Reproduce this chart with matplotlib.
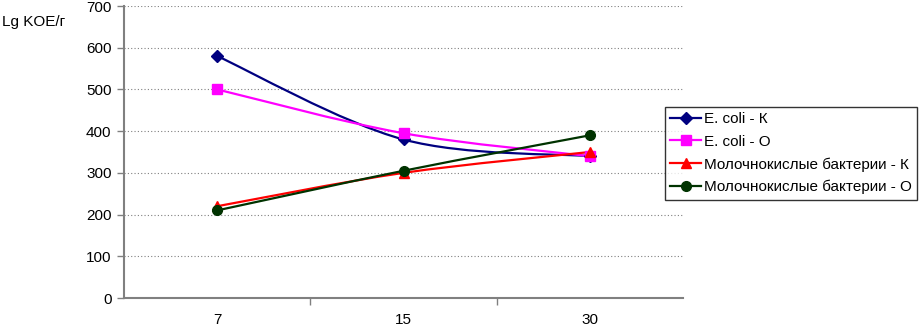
import numpy as np
import matplotlib.pyplot as plt
from matplotlib.path import Path
from matplotlib.patches import PathPatch

plt.rcParams['font.family'] = ['Liberation Sans', 'DejaVu Sans']

# Данные
days = ['7', '15', '30']
ecoli_k = [580, 380, 340]
ecoli_o = [500, 395, 340]
lact_k = [220, 300, 350]
lact_o = [210, 305, 390]

series = [
    ('E. coli - К', ecoli_k, '#000080', 'D', 6),
    ('E. coli - О', ecoli_o, '#FF00FF', 's', 7),
    ('Молочнокислые бактерии - К', lact_k, '#FF0000', '^', 7),
    ('Молочнокислые бактерии - О', lact_o, '#003300', 'o', 7),
]


def smooth_path(xs, ys):
    # сглаженная линия как в Excel (кривые Безье)
    pts = np.column_stack([xs, ys]).astype(float)
    n = len(pts)
    verts = [pts[0]]
    codes = [Path.MOVETO]
    for i in range(n - 1):
        p0 = pts[i - 1] if i > 0 else pts[i]
        p1 = pts[i]
        p2 = pts[i + 1]
        p3 = pts[i + 2] if i + 2 < n else pts[i + 1]
        c1 = p1 + (p2 - p0) / 6.0
        c2 = p2 - (p3 - p1) / 6.0
        verts += [c1, c2, p2]
        codes += [Path.CURVE4] * 3
    return Path(verts, codes)


fig = plt.figure(figsize=(9.22, 3.27), dpi=100)
ax = fig.add_axes([124 / 922, 29 / 327, (683 - 124) / 922, (298 - 6) / 327])

x = np.arange(len(days))
handles = []
for label, vals, color, marker, ms in series:
    patch = PathPatch(smooth_path(x, vals), facecolor='none', edgecolor=color, lw=1.6, zorder=3)
    ax.add_patch(patch)
    ax.plot(x, vals, linestyle='none', marker=marker, color=color, markersize=ms, zorder=4)
    h, = ax.plot([], [], color=color, marker=marker, markersize=ms, lw=1.6, label=label)
    handles.append(h)

ax.set_xlim(-0.5, 2.5)
ax.set_ylim(0, 700)
ax.set_yticks(range(0, 701, 100))
ax.set_xticks(x)
ax.set_xticklabels(days)
ax.set_xticks([0.5, 1.5], minor=True)
ax.tick_params(axis='x', which='major', length=0, pad=11, labelsize=11)
ax.tick_params(axis='x', which='minor', length=5, direction='out', color='#808080', width=1)
ax.tick_params(axis='y', length=5, direction='out', color='#808080', width=1, labelsize=11, pad=4)

ax.yaxis.grid(True, linestyle=(0, (1, 2)), color='#808080', linewidth=0.8)
ax.set_axisbelow(True)
for s in ['top', 'right']:
    ax.spines[s].set_visible(False)
for s in ['left', 'bottom']:
    ax.spines[s].set_color('#808080')
    ax.spines[s].set_linewidth(1.5)

fig.text(2 / 922, 1 - 22 / 327, 'Lg KOE/г', fontsize=11, va='center', ha='left')

leg = fig.legend(handles=handles, loc='upper left', bbox_to_anchor=(665 / 922, 1 - 107 / 327),
                 fontsize=11, frameon=True, fancybox=False, shadow=False,
                 handlelength=2.0, handletextpad=0.2, borderpad=0.35, labelspacing=0.55,
                 borderaxespad=0)
leg.get_frame().set_edgecolor('black')
leg.get_frame().set_linewidth(1.0)

plt.savefig('out.png', dpi=100)
